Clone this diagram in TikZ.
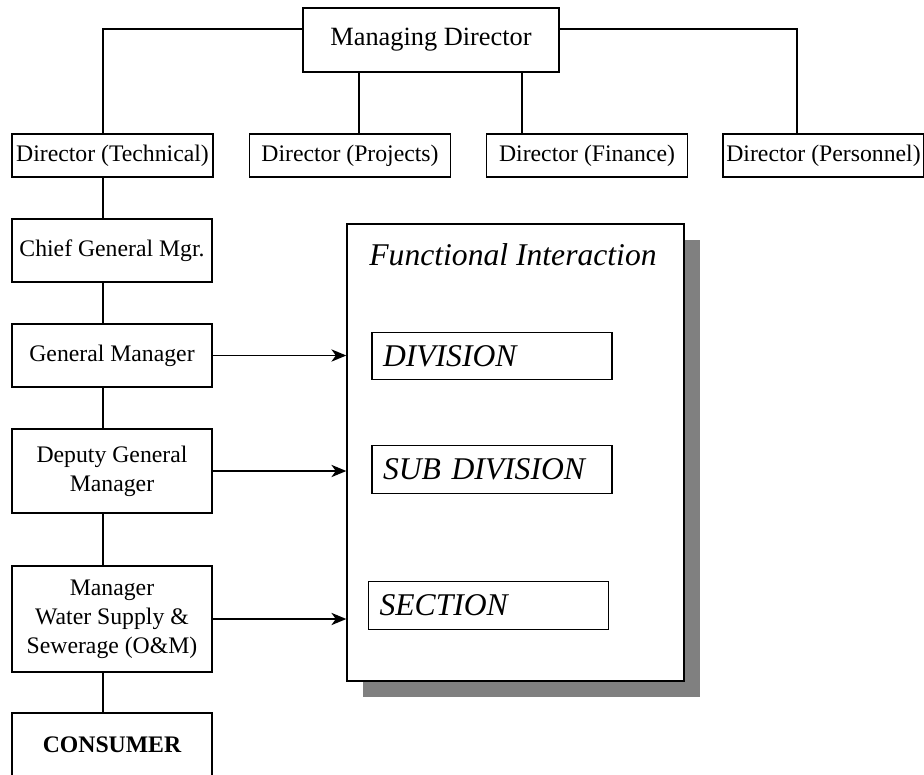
\documentclass[tikz,border=0pt]{standalone}
\usepackage{fontspec}
\setmainfont{Liberation Serif}
\usetikzlibrary{arrows.meta,shadows}

\begin{document}
\begin{tikzpicture}[
    x=0.02cm, y=-0.02cm,
    line width=0.8pt,
    box/.style={draw, inner sep=0pt, align=center, font=\fontsize{13.5}{16.4}\selectfont},
    dirbox/.style={box, minimum width=4.02cm, minimum height=0.86cm},
    staffbox/.style={box, minimum width=4cm},
    fnbox/.style={draw, inner sep=0pt, inner xsep=0.22cm, text width=4.36cm, align=left,
                  minimum height=0.95cm, font=\fontsize{18}{21}\selectfont\itshape},
    link/.style={-{Stealth[length=8.5pt, width=7pt, inset=2.5pt]}},
]
\useasboundingbox (0,0) rectangle (924,775);

% Top of the organisation
\node[box, minimum width=5.12cm, minimum height=1.28cm, font=\fontsize{15}{18}\selectfont] (md) at (431, 40) {Managing Director};

% Directors
\node[dirbox] (tech) at (112.5, 155.5) {Director (Technical)};
\node[dirbox] (proj) at (350, 155.5) {Director (Projects)};
\node[dirbox] (fin) at (587, 155.5) {Director (Finance)};
\node[dirbox] (pers) at (823.5, 155.5) {Director (Personnel)};

% Line of command under the technical director
\node[staffbox, minimum height=1.26cm] (chief) at (112, 250.5) {Chief General Mgr.};
\node[staffbox, minimum height=1.26cm] (gm) at (112, 355.5) {General Manager};
\node[staffbox, minimum height=1.68cm] (dgm) at (112, 471) {Deputy General\\Manager};
\node[staffbox, minimum height=2.12cm] (mws) at (112, 619) {Manager\\Water Supply \&\\Sewerage (O\&M)};
\node[staffbox, minimum height=1.28cm, font=\fontsize{13.5}{16.4}\selectfont\bfseries] (cons) at (112, 745) {CONSUMER};

% Functional interaction panel
\node[draw, fill=white, minimum width=6.74cm, minimum height=9.14cm,
      drop shadow={opacity=1, fill=black!50, shadow xshift=0.32cm, shadow yshift=-0.32cm}] (fi) at (515.5, 452.5) {};
\node[font=\fontsize{18}{21}\selectfont\itshape] (fititle) at (513, 255) {Functional Interaction};
\node[fnbox] (div) at (492, 356) {DIVISION};
\node[fnbox] (subdiv) at (492, 469.5) {SUB DIVISION};
\node[fnbox] (sec) at (488.5, 605.5) {SECTION};

% Where the connectors run
\coordinate (bus) at (0, 29);
\coordinate (spine) at (103, 0);
\coordinate (projtap) at (359, 0);
\coordinate (fintap) at (522, 0);
\coordinate (perstap) at (797, 0);

% Connectors
\draw (md.west |- bus) -| (tech.north -| spine);
\draw (md.east |- bus) -| (pers.north -| perstap);
\draw (md.south -| projtap) -- (proj.north -| projtap);
\draw (md.south -| fintap) -- (fin.north -| fintap);
\foreach \a/\b in {tech/chief, chief/gm, gm/dgm, dgm/mws, mws/cons}
    \draw (\a.south -| spine) -- (\b.north -| spine);

% Arrows into the panel
\draw[link] (gm.east) -- (gm.east -| fi.west);
\draw[link] (dgm.east) -- (dgm.east -| fi.west);
\draw[link] (mws.east) -- (mws.east -| fi.west);
\end{tikzpicture}
\end{document}
